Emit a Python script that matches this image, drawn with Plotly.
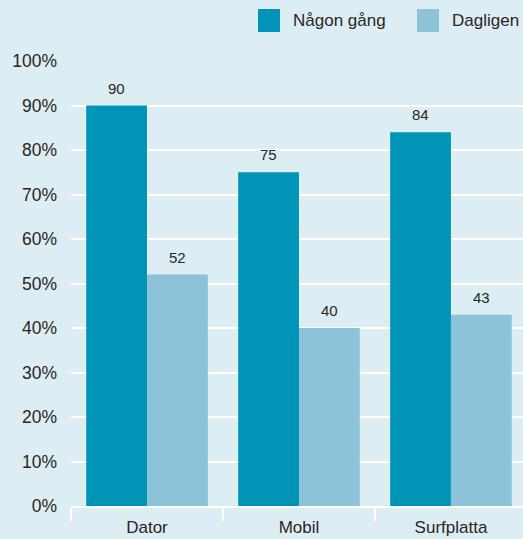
import plotly.graph_objects as go

categories = ["Dator", "Mobil", "Surfplatta"]
nagon_gang = [90, 75, 84]
dagligen = [52, 40, 43]
series_names = ["Någon gång", "Dagligen"]
y_ticks = [0, 10, 20, 30, 40, 50, 60, 70, 80, 90, 100]
y_tick_labels = [f"{v}%" for v in y_ticks]

dark = "#0094B6"
light = "#8CC3D8"
bg = "#DCEDF4"
txt = "#2B2620"
font_family = "Liberation Sans, Arial, sans-serif"

fig = go.Figure()
for i, (name, vals, col) in enumerate([(series_names[0], nagon_gang, dark), (series_names[1], dagligen, light)]):
    fig.add_trace(go.Bar(
        x=categories, y=vals, name=name, marker=dict(color=col, line=dict(width=0)),
        showlegend=False, hoverinfo="skip",
    ))
    for c, v in zip(categories, vals):
        fig.add_annotation(x=c, y=v, text=str(v), showarrow=False,
                           xshift=-30.5 if i == 0 else 30.5, yshift=7, yanchor="bottom",
                           font=dict(size=15, color=txt, family=font_family))

fig.update_layout(
    width=523, height=539,
    paper_bgcolor=bg, plot_bgcolor=bg,
    barmode="group", bargap=0.2, bargroupgap=0,
    margin=dict(l=71, r=0, t=61, b=33, autoexpand=False),
    font=dict(family=font_family, color=txt, size=16),
    xaxis=dict(
        range=[-0.5, 2.474], tickson="boundaries", ticks="outside", ticklen=13,
        tickcolor="white", tickwidth=2, showline=True, linecolor="white", linewidth=2,
        tickfont=dict(size=17, color=txt), showgrid=False, automargin=False,
        ticklabelstandoff=5, fixedrange=True,
    ),
    yaxis=dict(
        range=[0, 100], tickvals=y_ticks, ticktext=y_tick_labels,
        showgrid=True, gridcolor="white", gridwidth=2, zeroline=False,
        tickfont=dict(size=17.5, color=txt), ticklabelstandoff=13, automargin=False,
        fixedrange=True,
    ),
)

# custom legend (larger swatches)
legend_items = [(series_names[0], dark, 258), (series_names[1], light, 417)]
for name, col, x0 in legend_items:
    fig.add_shape(type="rect", xref="paper", yref="paper",
                  x0=(x0 - 71) / 452, x1=(x0 + 22 - 71) / 452,
                  y0=(539 - 33 - 32) / 445, y1=(539 - 33 - 9) / 445,
                  fillcolor=col, line=dict(width=0))
    fig.add_annotation(text=name, xref="paper", yref="paper",
                       x=(x0 + 33 - 71) / 452, y=(539 - 33 - 20.5) / 445,
                       xanchor="left", yanchor="middle", showarrow=False,
                       font=dict(size=17, color=txt, family=font_family))

fig.write_html("out.html", config={"displayModeBar": False},
               post_script="document.body.style.margin='0';document.body.style.background='%s';document.body.style.overflow='hidden';" % bg)
